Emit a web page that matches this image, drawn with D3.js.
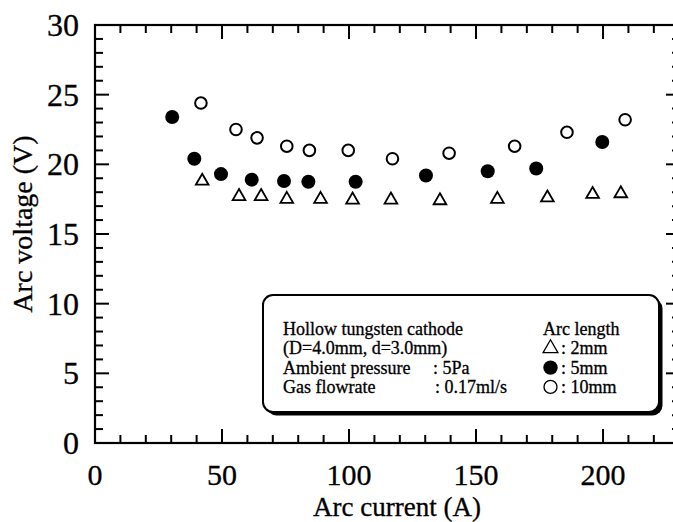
<!DOCTYPE html>
<html>
<head>
<meta charset="utf-8">
<script src="https://cdn.jsdelivr.net/npm/d3@7"></script>
<style>
  body { margin: 0; background: #fff; }
  text { font-family: "Liberation Serif", "Times New Roman", serif; fill: #000; stroke: #000; stroke-width: 0.3; }
</style>
</head>
<body>
<svg id="chart" width="673" height="522"></svg>
<script>
// arc current (A) and arc voltage (V) for each arc length
const current2mm = [42.2, 56.7, 65.4, 75.5, 88.8, 101.4, 116.5, 135.8, 158.4, 178.1, 195.9, 207.0];
const voltage2mm = [18.8, 17.7, 17.7, 17.5, 17.5, 17.45, 17.45, 17.4, 17.5, 17.6, 17.85, 17.9];

const current5mm = [30.4, 39.1, 49.6, 61.7, 74.4, 84.0, 102.6, 130.3, 154.6, 173.7, 199.7];
const voltage5mm = [23.4, 20.4, 19.3, 18.9, 18.8, 18.75, 18.75, 19.2, 19.5, 19.7, 21.6];

const current10mm = [41.7, 55.5, 63.8, 75.5, 84.4, 99.7, 117.1, 139.4, 165.2, 185.8, 208.7];
const voltage10mm = [24.4, 22.5, 21.9, 21.3, 21.0, 21.0, 20.4, 20.8, 21.3, 22.3, 23.2];

const xTicks = [0, 50, 100, 150, 200];
const yTicks = [0, 5, 10, 15, 20, 25, 30];

const legendNotes = [
  ["Hollow tungsten cathode", ""],
  ["(D=4.0mm, d=3.0mm)", ""],
  ["Ambient pressure", ": 5Pa"],
  ["Gas flowrate", ": 0.17ml/s"]
];
const legendSeries = ["2mm", "5mm", "10mm"];

const width = 673, height = 522;
const xMax = 230.3; // right axis lies just outside the picture

const svg = d3.select("#chart");

const x = d3.scaleLinear().domain([0, xMax]).range([95, 680]);
const y = d3.scaleLinear().domain([0, 30]).range([443, 25]);

const minorX = d3.range(0, 231, 10);
const minorY = d3.range(0, 31, 1);

// frame
svg.append("rect")
  .attr("x", x(0)).attr("y", y(30))
  .attr("width", x(xMax) - x(0)).attr("height", y(0) - y(30))
  .attr("fill", "none").attr("stroke", "#000").attr("stroke-width", 2.2);

function tickSize(v, major) { return major.includes(v) ? 14 : 8; }

// bottom and top ticks (pointing inward)
svg.append("g").selectAll("line").data(minorX).join("line")
  .attr("x1", d => x(d)).attr("x2", d => x(d))
  .attr("y1", y(0)).attr("y2", d => y(0) - tickSize(d, xTicks))
  .attr("stroke", "#000").attr("stroke-width", 2);
svg.append("g").selectAll("line").data(minorX).join("line")
  .attr("x1", d => x(d)).attr("x2", d => x(d))
  .attr("y1", y(30)).attr("y2", d => y(30) + tickSize(d, xTicks))
  .attr("stroke", "#000").attr("stroke-width", 2);

// left and right ticks
svg.append("g").selectAll("line").data(minorY).join("line")
  .attr("x1", x(0)).attr("x2", d => x(0) + tickSize(d, yTicks))
  .attr("y1", d => y(d)).attr("y2", d => y(d))
  .attr("stroke", "#000").attr("stroke-width", 2);
svg.append("g").selectAll("line").data(minorY).join("line")
  .attr("x1", x(xMax)).attr("x2", d => x(xMax) - tickSize(d, yTicks))
  .attr("y1", d => y(d)).attr("y2", d => y(d))
  .attr("stroke", "#000").attr("stroke-width", 2);

// tick labels
svg.append("g").selectAll("text").data(xTicks).join("text")
  .attr("x", d => x(d)).attr("y", 485)
  .attr("text-anchor", "middle").attr("font-size", 30)
  .text(d => d);
svg.append("g").selectAll("text").data(yTicks).join("text")
  .attr("x", 79).attr("y", d => y(d) + 11)
  .attr("text-anchor", "end").attr("font-size", 32)
  .text(d => d);

// axis titles
svg.append("text")
  .attr("x", 397).attr("y", 515.5)
  .attr("text-anchor", "middle").attr("font-size", 27)
  .text("Arc current (A)");
svg.append("text")
  .attr("transform", "translate(32,224) rotate(-90)")
  .attr("text-anchor", "middle").attr("font-size", 28)
  .text("Arc voltage (V)");

// markers
const tri = d3.symbol().type(d3.symbolTriangle).size(70);

svg.append("g").selectAll("path").data(d3.zip(current2mm, voltage2mm)).join("path")
  .attr("d", tri)
  .attr("transform", d => `translate(${x(d[0])},${y(d[1])})`)
  .attr("fill", "#fff").attr("stroke", "#000").attr("stroke-width", 1.8);

svg.append("g").selectAll("circle").data(d3.zip(current5mm, voltage5mm)).join("circle")
  .attr("cx", d => x(d[0])).attr("cy", d => y(d[1])).attr("r", 7)
  .attr("fill", "#000");

svg.append("g").selectAll("circle").data(d3.zip(current10mm, voltage10mm)).join("circle")
  .attr("cx", d => x(d[0])).attr("cy", d => y(d[1])).attr("r", 5.8)
  .attr("fill", "#fff").attr("stroke", "#000").attr("stroke-width", 2);

// legend box with drop shadow
const lg = svg.append("g");
const bx = 263, by = 295, bw = 396, bh = 117;
const lineGap = 19.3, firstLine = 335;
lg.append("rect")
  .attr("x", bx + 3.5).attr("y", by + 3.5).attr("width", bw).attr("height", bh)
  .attr("rx", 10).attr("fill", "#000");
lg.append("rect")
  .attr("x", bx).attr("y", by).attr("width", bw).attr("height", bh)
  .attr("rx", 10).attr("fill", "#fff").attr("stroke", "#000").attr("stroke-width", 2);

lg.selectAll("text.note").data(legendNotes).join("text")
  .attr("class", "note")
  .attr("x", 283).attr("y", (d, i) => firstLine + i * lineGap)
  .attr("font-size", 18)
  .text(d => d[0]);
lg.selectAll("text.val").data(legendNotes.slice(2)).join("text")
  .attr("class", "val")
  .attr("x", (d, i) => i === 0 ? 433 : 435).attr("y", (d, i) => firstLine + (i + 2) * lineGap)
  .attr("font-size", 18)
  .text(d => d[1]);

lg.append("text").attr("x", 543).attr("y", firstLine).attr("font-size", 18).text("Arc length");
lg.selectAll("text.ser").data(legendSeries).join("text")
  .attr("class", "ser")
  .attr("x", 561).attr("y", (d, i) => firstLine + (i + 1) * lineGap)
  .attr("font-size", 18)
  .text(d => ": " + d);

const symY = i => firstLine + (i + 1) * lineGap - 6;
lg.append("path").attr("d", d3.symbol().type(d3.symbolTriangle).size(95))
  .attr("transform", `translate(550.5,${symY(0)})`)
  .attr("fill", "none").attr("stroke", "#000").attr("stroke-width", 1.3);
lg.append("circle").attr("cx", 550.5).attr("cy", symY(1)).attr("r", 7.2).attr("fill", "#000");
lg.append("circle").attr("cx", 550.5).attr("cy", symY(2)).attr("r", 6.5)
  .attr("fill", "none").attr("stroke", "#000").attr("stroke-width", 1.3);
</script>
</body>
</html>
